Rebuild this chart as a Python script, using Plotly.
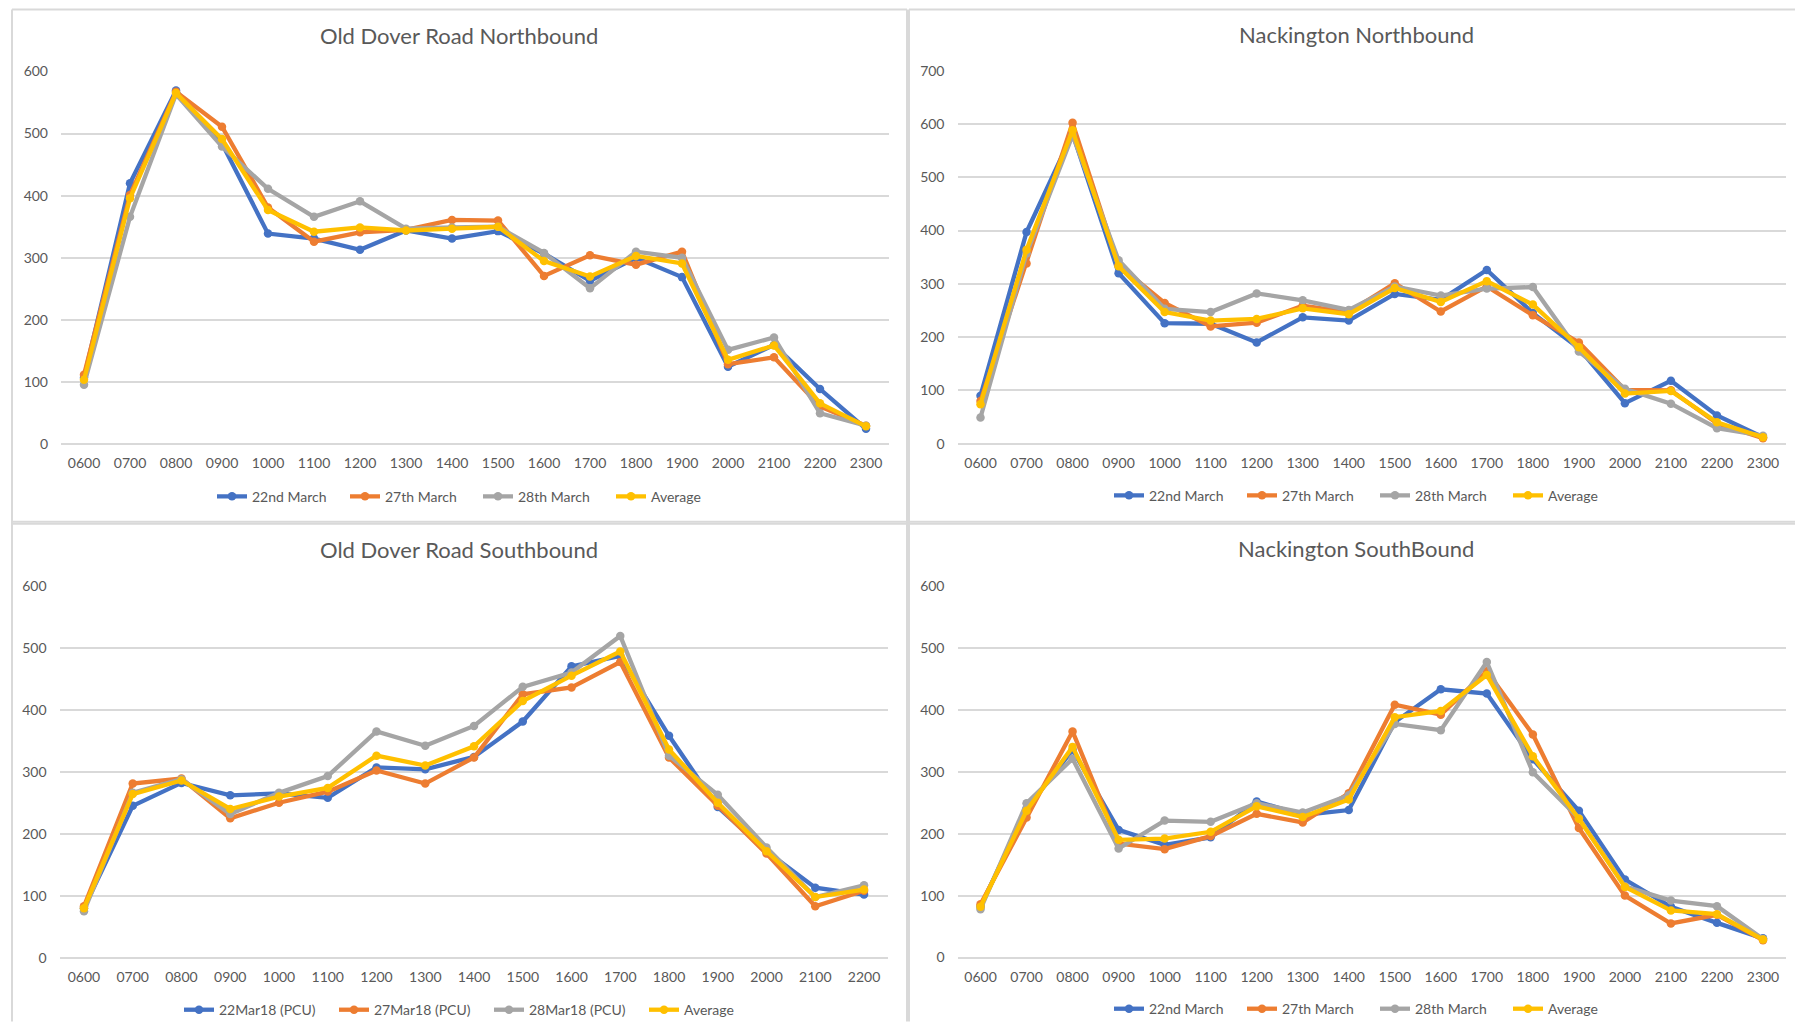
import plotly.graph_objects as go

# ---------------- data ----------------
hours_to_2300 = ["0600", "0700", "0800", "0900", "1000", "1100", "1200", "1300", "1400",
                 "1500", "1600", "1700", "1800", "1900", "2000", "2100", "2200", "2300"]
hours_to_2200 = hours_to_2300[:-1]

odr_nb_22 = [107, 420, 569, 484, 339, 331, 313, 344, 331, 343, 307, 263, 300, 269, 125, 160, 89, 25]
odr_nb_27 = [112, 401, 567, 511, 381, 326, 341, 345, 361, 360, 271, 304, 289, 310, 129, 140, 61, 30]
odr_nb_28 = [96, 366, 563, 479, 411, 366, 391, 347, 349, 350, 308, 251, 310, 300, 152, 172, 50, 30]
odr_nb_avg = [104, 396, 565, 491, 377, 342, 349, 344, 347, 350, 295, 270, 303, 291, 136, 159, 66, 29]

nn_22 = [90, 397, 582, 320, 226, 225, 190, 237, 231, 281, 270, 326, 245, 179, 76, 118, 53, 12]
nn_27 = [80, 338, 602, 335, 264, 220, 227, 259, 247, 301, 248, 295, 241, 190, 101, 100, 38, 10]
nn_28 = [49, 357, 579, 344, 253, 247, 282, 269, 251, 295, 278, 291, 294, 173, 103, 75, 29, 15]
nn_avg = [74, 364, 588, 333, 247, 231, 234, 254, 243, 292, 266, 305, 261, 181, 94, 99, 40, 12]

odr_sb_22 = [80, 245, 282, 262, 265, 258, 307, 304, 324, 381, 470, 487, 358, 243, 172, 113, 102]
odr_sb_27 = [83, 281, 289, 225, 250, 268, 302, 281, 323, 425, 436, 477, 323, 245, 168, 83, 108]
odr_sb_28 = [75, 266, 288, 232, 266, 293, 365, 342, 374, 437, 460, 519, 326, 263, 178, 98, 117]
odr_sb_avg = [80, 264, 286, 240, 260, 274, 326, 310, 341, 414, 455, 494, 336, 250, 172, 98, 110]

ns_22 = [82, 240, 335, 206, 182, 194, 252, 230, 238, 380, 433, 426, 320, 237, 126, 82, 56, 31]
ns_27 = [86, 226, 365, 184, 175, 196, 232, 218, 265, 408, 392, 462, 360, 209, 100, 55, 69, 28]
ns_28 = [78, 249, 321, 176, 221, 219, 249, 234, 262, 377, 367, 477, 299, 225, 115, 92, 83, 30]
ns_avg = [82, 237, 340, 190, 192, 203, 244, 227, 255, 388, 398, 456, 325, 224, 114, 76, 70, 29]

names_march = ["22nd March", "27th March", "28th March", "Average"]
names_pcu = ["22Mar18 (PCU)", "27Mar18 (PCU)", "28Mar18 (PCU)", "Average"]
colors = ["#4472C4", "#ED7D31", "#A5A5A5", "#FFC000"]

titles = ["Old Dover Road Northbound", "Nackington Northbound",
          "Old Dover Road Southbound", "Nackington SouthBound"]
y_max = [600, 700, 600, 600]

W, H = 1795, 1030
FONT = "Lato, 'Open Sans', sans-serif"
TXT = "#595959"
GRID = "#D9D9D9"

# The captured page shows the figure slightly squeezed vertically
# (screen_y ~= 7.7 + 0.9827 * fig_y); targets below are given in screen px.
Y_OFF, Y_SCALE = 7.7, 0.9827


def px_x(v):
    return v / W


def py(screen_y):
    fig_y = (screen_y - Y_OFF) / Y_SCALE
    fig_y = min(max(fig_y, 0.5), H - 0.5)
    return 1 - fig_y / H


panels = [
    dict(x=(61, 889), y=(70, 442.7), ty=34, ly=495, cx=478, tcx=459, ew=88),
    dict(x=(957.5, 1786), y=(69.3, 442), ty=33, ly=494, cx=1375, tcx=1356, ew=88),
    dict(x=(59.6, 888.4), y=(584, 955.7), ty=548, ly=1008, cx=489, tcx=459, ew=110),
    dict(x=(957.5, 1786), y=(584, 955.5), ty=547, ly=1007, cx=1375, tcx=1356, ew=88),
]

# panel frame segments (screen px): (x0, y0, x1, y1)
frame_segments = [
    (12, 7, 907, 7), (12, 7, 12, 1040), (907, 7, 907, 1040), (12, 520, 907, 520),
    (909, 6, 1795, 6), (909, 6, 909, 1040), (909, 520, 1795, 520),
    (12, 522, 907, 522), (909, 522, 1795, 522),
]

series_sets = [
    (hours_to_2300, [odr_nb_22, odr_nb_27, odr_nb_28, odr_nb_avg], names_march),
    (hours_to_2300, [nn_22, nn_27, nn_28, nn_avg], names_march),
    (hours_to_2200, [odr_sb_22, odr_sb_27, odr_sb_28, odr_sb_avg], names_pcu),
    (hours_to_2300, [ns_22, ns_27, ns_28, ns_avg], names_march),
]

fig = go.Figure()
layout = dict(
    width=W, height=H, autosize=False,
    margin=dict(l=0, r=0, t=0, b=0, pad=0),
    paper_bgcolor="white", plot_bgcolor="white",
    font=dict(family=FONT, color=TXT, size=14),
    annotations=[], shapes=[],
)

for i, (p, (cats, series, names)) in enumerate(zip(panels, series_sets)):
    k = "" if i == 0 else str(i + 1)
    legend_name = "legend" + k
    for s, name, col in zip(series, names, colors):
        fig.add_trace(go.Scatter(
            x=cats, y=s, name=name, mode="lines+markers",
            line=dict(color=col, width=4.3),
            marker=dict(color=col, size=8.5, symbol="circle"),
            xaxis="x" + k, yaxis="y" + k, legend=legend_name,
        ))
    layout["xaxis" + k] = dict(
        domain=[px_x(p["x"][0]), px_x(p["x"][1])], anchor="y" + k,
        type="category", range=[-0.5, len(cats) - 0.5],
        showgrid=False, showline=False, zeroline=False, ticks="",
        tickfont=dict(size=14, color=TXT, family=FONT),
        ticklabelstandoff=9, fixedrange=True,
    )
    layout["yaxis" + k] = dict(
        domain=[py(p["y"][1]), py(p["y"][0])], anchor="x" + k,
        range=[0, y_max[i]], dtick=100, tick0=0,
        showgrid=True, gridcolor=GRID, gridwidth=1.5,
        zeroline=True, zerolinecolor=GRID, zerolinewidth=1.5,
        showline=False, ticks="",
        tickfont=dict(size=14, color=TXT, family=FONT),
        ticklabelstandoff=12, fixedrange=True,
    )
    layout[legend_name] = dict(
        orientation="h", x=px_x(p["cx"]), xanchor="center",
        y=py(p["ly"]), yanchor="middle",
        font=dict(size=14, color=TXT, family=FONT),
        bgcolor="rgba(0,0,0,0)", itemwidth=30, traceorder="normal",
        entrywidth=p["ew"], entrywidthmode="pixels",
    )
    layout["annotations"].append(dict(
        text=titles[i], x=px_x(p["tcx"]), y=py(p["ty"]),
        xref="paper", yref="paper",
        xanchor="center", yanchor="middle", showarrow=False,
        font=dict(size=22, color=TXT, family=FONT),
    ))

for (x0, y0, x1, y1) in frame_segments:
    layout["shapes"].append(dict(
        type="line", xref="paper", yref="paper",
        x0=px_x(x0), x1=px_x(x1), y0=py(y0), y1=py(y1),
        line=dict(color=GRID, width=2), layer="below",
    ))

fig.update_layout(**layout)
fig.write_html(
    "out.html",
    config={"displayModeBar": False},
    post_script="document.body.style.margin='0';document.body.style.overflow='hidden';",
)
